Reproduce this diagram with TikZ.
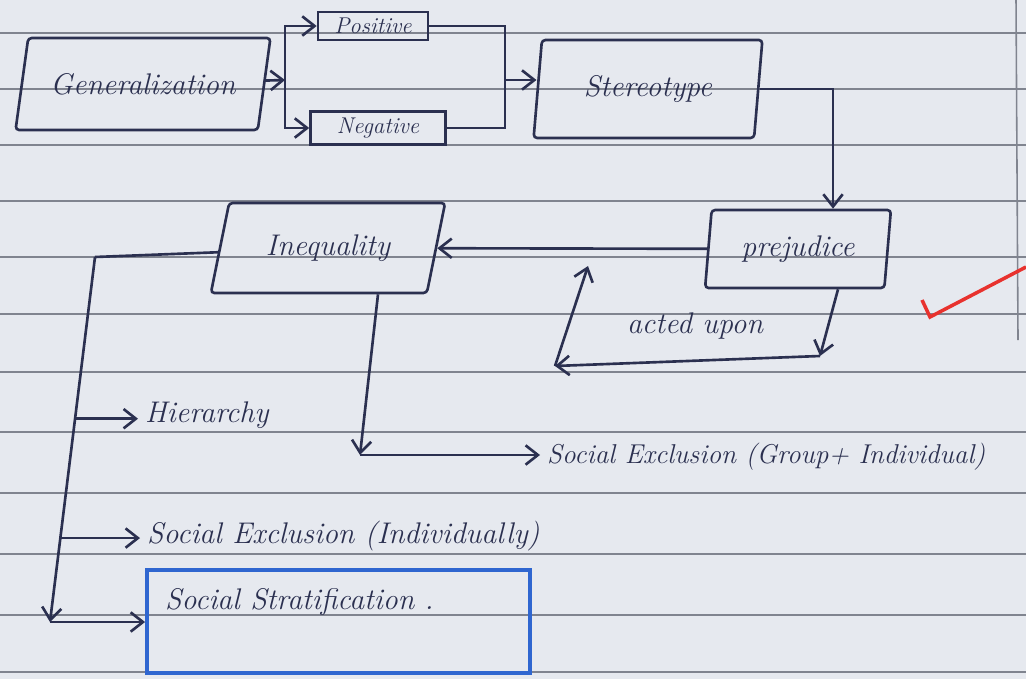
\documentclass[tikz,border=0pt]{standalone}
\usetikzlibrary{shapes.geometric, arrows.meta, fit}
\definecolor{ink}{HTML}{2B3050}
\definecolor{paper}{HTML}{E6E9EF}
\definecolor{rulegray}{HTML}{80848F}
\definecolor{strat}{HTML}{2F66D0}
\definecolor{tick}{HTML}{E8322E}

\begin{document}
\begin{tikzpicture}[x=0.02cm, y=-0.02cm, line width=1.5pt, color=ink,
  >={Straight Barb[length=7pt,width=11pt]},
  hand/.style={font=\fontsize{17}{20}\selectfont\itshape},
  slantbox/.style={trapezium, draw, hand, trapezium stretches=true, rounded corners=2pt},
  smallbox/.style={rectangle, draw, font=\fontsize{13}{15}\selectfont\itshape, inner sep=1pt},
  rule/.style={draw=rulegray, line width=0.9pt}]
\useasboundingbox (0,0) rectangle (1026,679);
\fill[paper] (0,0) rectangle (1026,679);
% ruled paper
\foreach \y in {33,89,145,201,257,314,372,432,493,554,615,672}
  \draw[rule] (0,\y) -- (1026,\y);
\draw[rule] (1016,0) -- (1018,340);

\node[slantbox, trapezium left angle=72, trapezium right angle=108, minimum width=5.1cm, minimum height=1.84cm] (1) at (143,84) {Generalization};
\node[smallbox, minimum width=2.2cm, minimum height=0.56cm] (2) at (373,26) {Positive};
\node[smallbox, minimum width=2.7cm, minimum height=0.66cm] (3) at (378,128) {Negative};
\node[slantbox, trapezium left angle=82, trapezium right angle=98, minimum width=4.6cm, minimum height=1.96cm] (4) at (648,89) {Stereotype};
\node[slantbox, trapezium left angle=83, trapezium right angle=97, minimum width=3.74cm, minimum height=1.56cm] (5) at (798,249) {prejudice};
\node[hand] (6) at (695,326) {acted upon};
\node[slantbox, trapezium left angle=72, trapezium right angle=108, minimum width=4.7cm, minimum height=1.8cm] (7) at (328,248) {Inequality};
\node[hand, font=\fontsize{15.5}{18}\selectfont\itshape, anchor=west] (8) at (540,457) {Social Exclusion (Group+ Individual)};
\node[hand, anchor=west] (9) at (138,415) {Hierarchy};
\node[hand, anchor=west] (10) at (140,536) {Social Exclusion (Individually)};
\node[draw=strat, line width=2.2pt, fit={(147,570) (530,673)}, inner sep=0pt] (11) {};
\node[hand, anchor=west] (12) at (158,602) {Social Stratification .};

\coordinate (sp) at (285,80);
\coordinate (jn) at (505,80);
\draw[->] (1) -- (sp);
\draw[->] (sp) |- (2);
\draw[->] (sp) |- (3);
\draw (2) -| (jn) |- (3);
\draw[->] (jn) -- (jn -| 4.west);
\draw[->] (4) -| ([xshift=0.7cm]5.north);
\draw[->] (5) -- (7);

\coordinate (a1) at (820,356);
\coordinate (a2) at (555,366);
\coordinate (a3) at (588,266);
\draw[->] ([xshift=0.8cm]5.south) -- (a1);
\draw[->] (a1) -- (a2);
\draw[->] (a2) -- (a3);

\coordinate (b1) at (360,455);
\draw[->] ([xshift=1cm]7.south) -- (b1);
\draw[->] (b1) -- (b1 -| 8.west);

\coordinate (t1) at (95,257);
\coordinate (t2) at (50,622);
\draw (7) -- (t1);
\draw[->] (t1) -- (t2) coordinate[pos=0.443] (h0) coordinate[pos=0.77] (e0);
\draw[->] (h0) -- (h0 -| 9.west);
\draw[->] (e0) -- (e0 -| 10.west);
\draw[->] (t2) -- (t2 -| 11.west);

\draw[tick, line width=2pt] (922,300) -- (930,317) -- (1026,267);
\end{tikzpicture}
\end{document}
